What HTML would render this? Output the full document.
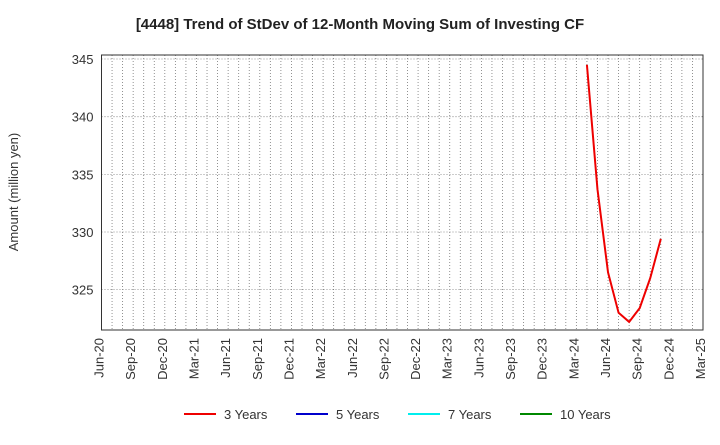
<!DOCTYPE html>
<html><head><meta charset="utf-8"><style>
body{margin:0;background:#fff;font-family:"Liberation Sans",sans-serif;}
</style></head><body>
<svg width="720" height="440" xmlns="http://www.w3.org/2000/svg">
<text x="360" y="29" text-anchor="middle" font-size="15" font-weight="bold" fill="#222">[4448]  Trend of StDev of 12-Month Moving Sum of Investing CF</text>
<g id="grid"></g>
<g id="yaxis"></g>
<g id="xaxis"></g>
<text x="18" y="192" transform="rotate(-90 18 192)" text-anchor="middle" font-size="13" fill="#333">Amount (million yen)</text>
<g id="series"></g>
<rect x="101.5" y="55" width="601.5" height="275" fill="none" stroke="#333" stroke-width="1"/>
<g id="legend"></g>
</svg>
<script>
const xLabels=["Jun-20","Sep-20","Dec-20","Mar-21","Jun-21","Sep-21","Dec-21","Mar-22","Jun-22","Sep-22","Dec-22","Mar-23","Jun-23","Sep-23","Dec-23","Mar-24","Jun-24","Sep-24","Dec-24","Mar-25"];
const yTicks=[325,330,335,340,345];
const months3=["Apr-24","May-24","Jun-24","Jul-24","Aug-24","Sep-24","Oct-24","Nov-24"];
const values3=[344.5,333.7,326.5,323.0,322.2,323.4,326.0,329.4];
const legendNames=["3 Years","5 Years","7 Years","10 Years"];
const legendColors=["#e00","#00c","#0ee","#080"];
const NS="http://www.w3.org/2000/svg";
const L=101.5,R=703,T=55,B=330,yMin=321.5,yMax=345.35;
const monthIdx=m=>{const mm={Jan:1,Feb:2,Mar:3,Apr:4,May:5,Jun:6,Jul:7,Aug:8,Sep:9,Oct:10,Nov:11,Dec:12};const[a,b]=m.split("-");return (2000+ +b)*12+mm[a];};
const m0=monthIdx("Jun-20"),m1=monthIdx("Mar-25");
const xs=m=>L+(monthIdx(m)-m0)/(m1-m0)*(R-L);
const ys=v=>B-(v-yMin)/(yMax-yMin)*(B-T);
function mk(t,a,p){const e=document.createElementNS(NS,t);for(const k in a)e.setAttribute(k,a[k]);p.appendChild(e);return e;}
const grid=document.getElementById("grid"),ya=document.getElementById("yaxis"),xa=document.getElementById("xaxis");
for(let m=m0;m<=m1;m++){const x=L+(m-m0)/(m1-m0)*(R-L);
const g=mk("line",{x1:x,x2:x,y1:T,y2:B,stroke:"#777","stroke-width":0.8,"stroke-dasharray":"1,2"},grid);

}
yTicks.forEach(v=>{const y=ys(v);
const g=mk("line",{x1:L,x2:R,y1:y,y2:y,stroke:"#777","stroke-width":0.8,"stroke-dasharray":"1,2"},grid);


const t=mk("text",{x:L-8,y:y+5,"text-anchor":"end","font-size":13,fill:"#333"},ya);t.textContent=v;

});
xLabels.forEach(l=>{const x=xs(l)+2;
const t=mk("text",{x:x,y:338,"text-anchor":"end","font-size":13,fill:"#333",transform:`rotate(-90 ${x} 338)`},xa);t.textContent=l;

});
const pts=months3.map((m,i)=>xs(m)+","+ys(values3[i])).join(" ");
const pl=mk("polyline",{points:pts,fill:"none",stroke:"#e00","stroke-width":2},document.getElementById("series"));


const lg=document.getElementById("legend");const lx=[184,296,408,520];
legendNames.forEach((n,i)=>{const g=mk("g",{},lg);


mk("line",{x1:lx[i],x2:lx[i]+32,y1:414,y2:414,stroke:legendColors[i],"stroke-width":2},g);
const t=mk("text",{x:lx[i]+40,y:419,"font-size":13,fill:"#333"},g);t.textContent=n;});
</script>
</body></html>
